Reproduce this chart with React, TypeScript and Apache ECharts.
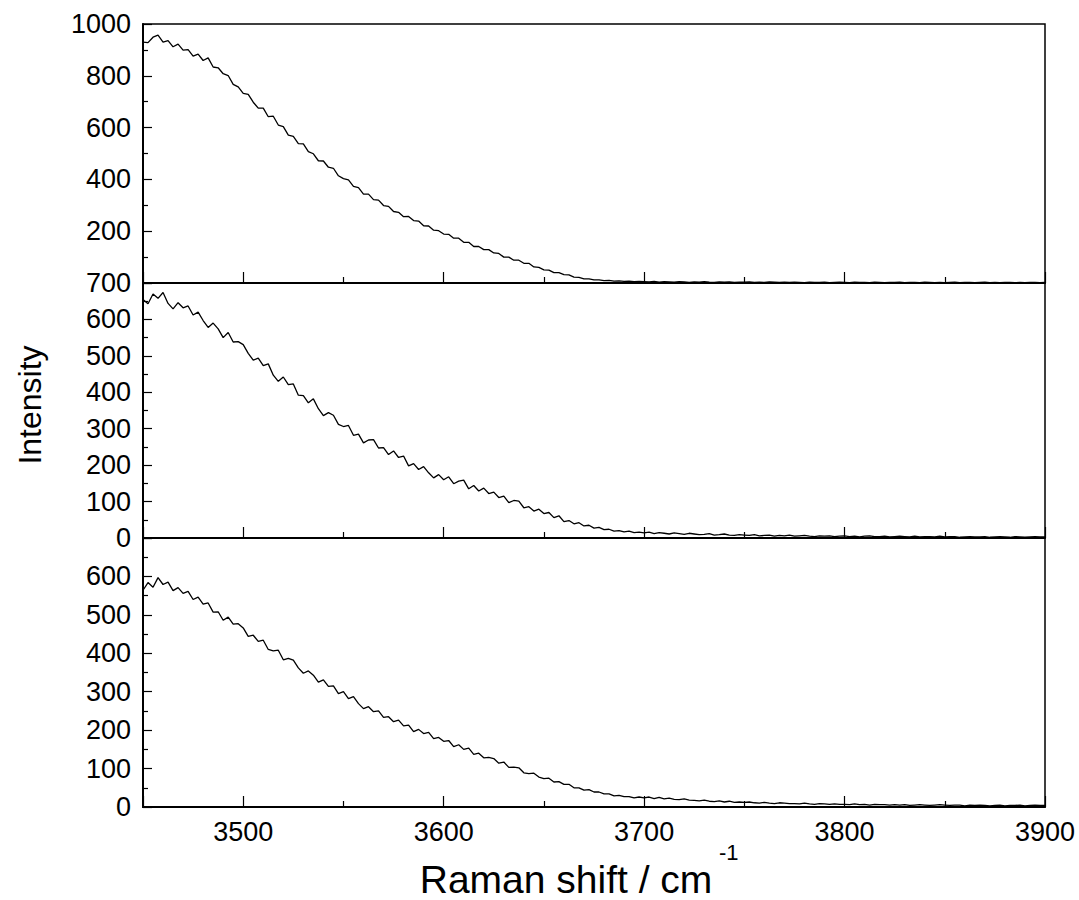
import React, { useEffect, useRef } from 'react';
import * as echarts from 'echarts';

// Raman shift sampling (cm^-1): first point and spacing; each row below covers 25 cm^-1
const X_START = 3450;
const X_STEP = 2.5;

const xTickLabels = [3500, 3600, 3700, 3800, 3900];

// Top panel intensities (3450 → 3900, step 2.5)
const topIntensity = [
  930, 928, 949, 957, 930, 936, 912, 922, 899, 901,
  876, 884, 859, 869, 834, 831, 808, 801, 767, 757,
  732, 728, 698, 675, 675, 642, 644, 610, 604, 571,
  566, 538, 537, 507, 499, 472, 471, 447, 443, 414,
  403, 398, 373, 368, 343, 343, 322, 320, 299, 296,
  276, 273, 256, 257, 241, 239, 221, 220, 204, 202,
  189, 188, 173, 173, 157, 157, 141, 141, 129, 129,
  116, 114, 100, 100, 88, 88, 76, 76, 62, 60,
  51, 50, 40, 40, 32, 31, 23, 22, 16, 16,
  12, 12, 9, 10, 7, 8, 6, 7, 5, 6,
  5, 4, 6, 3, 5, 4, 3, 5, 4, 2,
  4, 3, 5, 3, 2, 4, 3, 4, 2, 3,
  3, 4, 2, 3, 2, 4, 3, 2, 3, 2,
  3, 2, 1, 3, 2, 2, 3, 1, 2, 3,
  2, 1, 3, 2, 2, 1, 3, 2, 1, 2,
  2, 3, 1, 2, 2, 1, 3, 2, 1, 2,
  1, 2, 3, 1, 2, 2, 1, 2, 3, 1,
  2, 1, 2, 2, 1, 2, 1, 2, 2, 1,
  2,
];

// Middle panel intensities
const midIntensity = [
  655, 643, 670, 658, 674, 644, 629, 646, 632, 637,
  612, 620, 597, 578, 590, 574, 550, 564, 538, 539,
  531, 507, 488, 494, 473, 478, 447, 430, 442, 421,
  423, 392, 391, 371, 382, 355, 336, 344, 337, 312,
  306, 309, 282, 285, 261, 269, 270, 247, 248, 229,
  239, 221, 225, 198, 204, 188, 196, 179, 165, 174,
  160, 168, 149, 156, 159, 135, 144, 129, 137, 122,
  126, 111, 115, 97, 103, 101, 83, 86, 74, 79,
  67, 70, 56, 61, 45, 48, 39, 42, 33, 35,
  27, 29, 23, 24, 19, 20, 17, 19, 15, 16,
  14, 16, 12, 15, 13, 11, 14, 12, 10, 13,
  11, 9, 10, 12, 8, 9, 11, 8, 7, 9,
  8, 7, 9, 6, 7, 8, 5, 7, 6, 8,
  5, 6, 7, 5, 4, 6, 5, 6, 4, 5,
  6, 4, 5, 3, 5, 6, 4, 4, 5, 3,
  4, 5, 4, 3, 5, 3, 4, 4, 3, 5,
  3, 4, 4, 2, 3, 4, 3, 3, 4, 2,
  3, 4, 3, 2, 4, 3, 2, 3, 4, 3,
  3,
];

// Bottom panel intensities
const botIntensity = [
  564, 584, 572, 597, 579, 585, 563, 571, 556, 561,
  540, 546, 528, 531, 507, 508, 486, 494, 476, 477,
  466, 444, 447, 431, 434, 410, 406, 408, 383, 387,
  382, 362, 348, 354, 343, 325, 331, 314, 315, 295,
  300, 282, 287, 269, 256, 261, 248, 250, 233, 235,
  222, 226, 211, 213, 196, 202, 191, 194, 178, 181,
  171, 173, 157, 162, 150, 153, 137, 140, 128, 129,
  126, 114, 117, 103, 104, 102, 89, 87, 88, 78,
  74, 75, 65, 66, 59, 59, 50, 50, 44, 45,
  39, 39, 34, 34, 29, 30, 27, 27, 24, 26,
  24, 26, 22, 25, 21, 23, 20, 19, 21, 18,
  17, 16, 18, 15, 14, 16, 13, 15, 12, 13,
  12, 13, 11, 10, 12, 10, 9, 11, 10, 9,
  9, 8, 10, 8, 7, 9, 8, 7, 8, 7,
  7, 6, 8, 6, 7, 5, 7, 6, 6, 5,
  6, 5, 6, 4, 5, 6, 5, 4, 5, 6,
  5, 4, 5, 5, 3, 5, 4, 5, 4, 3,
  4, 5, 3, 4, 4, 5, 3, 4, 5, 4,
  4,
];

const panelMax = [1000, 700, 700];
const panelInterval = [200, 100, 100];

const FONT = "'Liberation Sans', Arial, Helvetica, sans-serif";

const toPairs = (vals: number[]) => vals.map((v, i) => [X_START + i * X_STEP, v]);

export default function App() {
  const ref = useRef<HTMLDivElement>(null);

  useEffect(() => {
    if (!ref.current) return;
    const chart = echarts.init(ref.current, undefined, { renderer: 'svg' });

    const grids = [
      { left: 143, top: 24, width: 902, height: 259 },
      { left: 143, top: 283, width: 902, height: 255 },
      { left: 143, top: 538, width: 902, height: 269 },
    ].map((g) => ({ ...g, show: true, borderColor: '#000', borderWidth: 1.5, backgroundColor: 'transparent' }));

    const xAxes = [0, 1, 2].map((i) => ({
      type: 'value',
      gridIndex: i,
      min: 3450,
      max: 3900,
      axisLine: { show: true, lineStyle: { color: '#000', width: 2 } },
      axisTick: { show: true, inside: true, length: 11, lineStyle: { color: '#000', width: 1.2 } },
      minorTick: { show: true, splitNumber: 2, length: 6, lineStyle: { color: '#000', width: 1.2 } },
      splitLine: { show: false },
      minorSplitLine: { show: false },
      axisLabel: {
        show: i === 2,
        color: '#000',
        fontSize: 27,
        fontFamily: FONT,
        margin: 11,
        formatter: (v: number) => (xTickLabels.includes(v) ? String(v) : ''),
      },
    }));

    const yAxes = [0, 1, 2].map((i) => ({
      type: 'value',
      gridIndex: i,
      min: 0,
      max: panelMax[i],
      interval: panelInterval[i],
      axisLine: { show: true, lineStyle: { color: '#000', width: 2 } },
      axisTick: { show: true, inside: true, length: 9, lineStyle: { color: '#000', width: 1.2 } },
      minorTick: { show: true, splitNumber: 2, length: 5, lineStyle: { color: '#000', width: 1.2 } },
      splitLine: { show: false },
      minorSplitLine: { show: false },
      axisLabel: {
        color: '#000',
        fontSize: 27,
        fontFamily: FONT,
        margin: 12,
        formatter: (v: number) => {
          if (i === 0 && v === 0) return '';
          if (i === 2 && v === panelMax[2]) return '';
          return String(v);
        },
      },
    }));

    const seriesData = [topIntensity, midIntensity, botIntensity];

    chart.setOption({
      animation: false,
      backgroundColor: '#fff',
      grid: grids,
      xAxis: xAxes,
      yAxis: yAxes,
      series: seriesData.map((vals, i) => ({
        type: 'line',
        xAxisIndex: i,
        yAxisIndex: i,
        data: toPairs(vals),
        showSymbol: false,
        symbol: 'none',
        lineStyle: { color: '#000', width: 1.3 },
      })),
      graphic: [
        {
          type: 'text',
          x: 30,
          y: 405,
          rotation: Math.PI / 2,
          style: {
            text: 'Intensity',
            fontSize: 32,
            fontFamily: FONT,
            fill: '#000',
            align: 'center',
            verticalAlign: 'middle',
          },
        },
        {
          type: 'text',
          x: 566,
          y: 879,
          style: {
            text: 'Raman shift / cm',
            fontSize: 39,
            fontFamily: FONT,
            fill: '#000',
            align: 'center',
            verticalAlign: 'middle',
          },
        },
        {
          type: 'text',
          x: 719,
          y: 852,
          style: {
            text: '-1',
            fontSize: 22,
            fontFamily: FONT,
            fill: '#000',
            align: 'left',
            verticalAlign: 'middle',
          },
        },
      ],
    });

    return () => chart.dispose();
  }, []);

  return <div ref={ref} style={{ position: 'absolute', left: 0, top: 0, width: 1079, height: 900 }} />;
}
